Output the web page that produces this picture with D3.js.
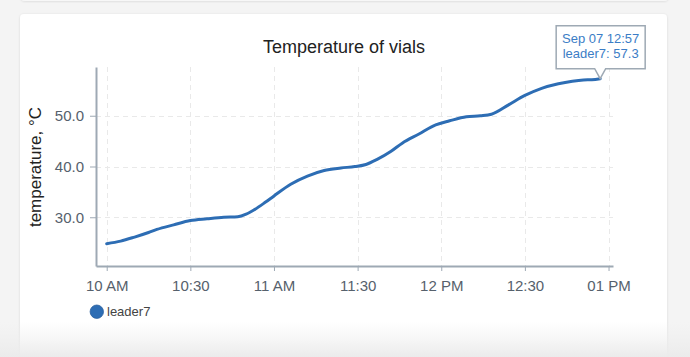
<!DOCTYPE html>
<html>
<head>
<meta charset="utf-8">
<script src="https://cdn.jsdelivr.net/npm/d3@7"></script>
<style>
  html, body { margin: 0; padding: 0; background: #f4f4f4; overflow: hidden; }
  svg { display: block; font-family: "Liberation Sans", Arial, Helvetica, sans-serif; }
</style>
</head>
<body>
<svg id="chart" width="690" height="357"></svg>
<script>
// ---- data ----
const seriesName = "leader7";
const chartTitle = "Temperature of vials";
const yTitle = "temperature, \u00B0C";
// minutes after 10:00 on Sep 07
const minutes = [0, 5, 10, 15, 18, 24, 30, 36, 42, 47, 50, 53, 57, 60, 66, 72, 78, 84, 89, 93, 97, 102, 106, 112, 118, 123, 129, 134, 138, 144, 150, 156, 162, 167, 171, 174, 177];
const temps   = [24.8, 25.3, 26.1, 27.0, 27.6, 28.5, 29.35, 29.7, 30.0, 30.1, 30.6, 31.5, 33.0, 34.2, 36.5, 38.1, 39.2, 39.7, 40.0, 40.4, 41.4, 43.0, 44.6, 46.4, 48.2, 49.0, 49.8, 50.0, 50.3, 52.1, 54.0, 55.4, 56.3, 56.8, 57.05, 57.1, 57.3];
const yTicks = [30, 40, 50];
const xTickLabels = ["10 AM", "10:30", "11 AM", "11:30", "12 PM", "12:30", "01 PM"];
const tooltipLines = ["Sep 07 12:57", "leader7: 57.3"];

const base = new Date(2021, 8, 7, 10, 0, 0);
const data = minutes.map((m, i) => ({ t: new Date(base.getTime() + m * 60000), v: temps[i] }));

const svg = d3.select("#chart");
const lineColor = "#2d6db4";
const axisColor = "#9ea9b4";

// ---- background cards ----
const defs = svg.append("defs");
const f = defs.append("filter").attr("id", "sh").attr("x", "-5%").attr("y", "-5%").attr("width", "110%").attr("height", "110%");
f.append("feDropShadow").attr("dx", 0).attr("dy", 0.5).attr("stdDeviation", 0.8).attr("flood-color", "#000").attr("flood-opacity", 0.12);
svg.append("rect").attr("x", 21).attr("y", -20).attr("width", 647).attr("height", 21).attr("rx", 4).attr("fill", "#f7f7f7").attr("filter", "url(#sh)");
svg.append("rect").attr("x", 20).attr("y", 14).attr("width", 647).attr("height", 380).attr("rx", 4).attr("fill", "#fff").attr("filter", "url(#sh)");

// ---- scales ----
const x = d3.scaleTime()
  .domain([new Date(base.getTime() - 3.84 * 60000), new Date(base.getTime() + 181.6 * 60000)])
  .range([96, 613]);
const y = d3.scaleLinear().domain([20.4, 59.6]).range([266, 67]);
const xTickVals = xTickLabels.map((_, i) => new Date(base.getTime() + i * 30 * 60000));

// ---- grid ----
const grid = svg.append("g").attr("stroke", "#e9e9e9").attr("stroke-width", 1).attr("stroke-dasharray", "5,4");
grid.selectAll("line.v").data(xTickVals).join("line")
  .attr("x1", d => Math.round(x(d)) + 0.5).attr("x2", d => Math.round(x(d)) + 0.5)
  .attr("y1", 67).attr("y2", 266);
grid.selectAll("line.h").data(yTicks).join("line")
  .attr("x1", 96).attr("x2", 613)
  .attr("y1", d => Math.round(y(d)) + 0.5).attr("y2", d => Math.round(y(d)) + 0.5);

// ---- axes ----
const xAxis = svg.append("g").attr("transform", "translate(0,266)")
  .call(d3.axisBottom(x).tickValues(xTickVals).tickFormat((d, i) => xTickLabels[i]).tickSize(5).tickPadding(9).tickSizeOuter(0));
const yAxis = svg.append("g").attr("transform", "translate(96,0)")
  .call(d3.axisLeft(y).tickValues(yTicks).tickFormat(d3.format(".1f")).tickSize(6).tickPadding(6).tickSizeOuter(0));
[xAxis, yAxis].forEach(g => {
  g.select(".domain").attr("stroke", axisColor).attr("stroke-width", 2);
  g.selectAll(".tick line").attr("stroke", axisColor).attr("stroke-width", 1);
  g.selectAll(".tick text").attr("fill", "#56616c").attr("font-size", 15).attr("font-family", "'Liberation Sans', Arial, sans-serif");
});

// ---- line ----
const line = d3.line().x(d => x(d.t)).y(d => y(d.v)).curve(d3.curveMonotoneX);
svg.append("path").datum(data).attr("d", line)
  .attr("fill", "none").attr("stroke", lineColor).attr("stroke-width", 3)
  .attr("stroke-linejoin", "round").attr("stroke-linecap", "round");

// ---- titles ----
svg.append("text").attr("x", 344).attr("y", 53).attr("text-anchor", "middle")
  .attr("font-size", 18).attr("fill", "#222").text(chartTitle);
svg.append("text").attr("transform", "translate(41,167) rotate(-90)").attr("text-anchor", "middle")
  .attr("font-size", 17).attr("fill", "#222").text(yTitle);

// ---- legend ----
svg.append("circle").attr("cx", 96.8).attr("cy", 311.7).attr("r", 6.7)
  .attr("fill", lineColor).attr("stroke", "#2a5f9e").attr("stroke-width", 0.8);
svg.append("text").attr("x", 107).attr("y", 316.3).attr("font-size", 13).attr("fill", "#444").text(seriesName);

// ---- tooltip ----
const last = data[data.length - 1];
const tx = x(last.t), ty = y(last.v);
const tip = svg.append("g");
const L = tx - 44, R = tx + 45, T = ty - 53, B = ty - 10;
tip.append("path")
  .attr("d", `M${L},${T}H${R}V${B}H${tx + 5.5}L${tx},${ty}L${tx - 5.5},${B}H${L}Z`)
  .attr("fill", "#fff").attr("stroke", axisColor).attr("stroke-width", 1.5);
tip.selectAll("text").data(tooltipLines).join("text")
  .attr("x", (L + R) / 2).attr("y", (d, i) => ty - 35.5 + i * 15)
  .attr("text-anchor", "middle").attr("font-size", 13).attr("fill", "#3b7dc6").text(d => d);

// ---- bottom fade ----
const g = defs.append("linearGradient").attr("id", "fade").attr("x1", 0).attr("y1", 0).attr("x2", 0).attr("y2", 1);
g.append("stop").attr("offset", 0).attr("stop-color", "#eeeeee").attr("stop-opacity", 0);
g.append("stop").attr("offset", 1).attr("stop-color", "#ebebeb").attr("stop-opacity", 1);
svg.append("rect").attr("x", 0).attr("y", 322).attr("width", 690).attr("height", 35).attr("fill", "url(#fade)");
</script>
</body>
</html>
